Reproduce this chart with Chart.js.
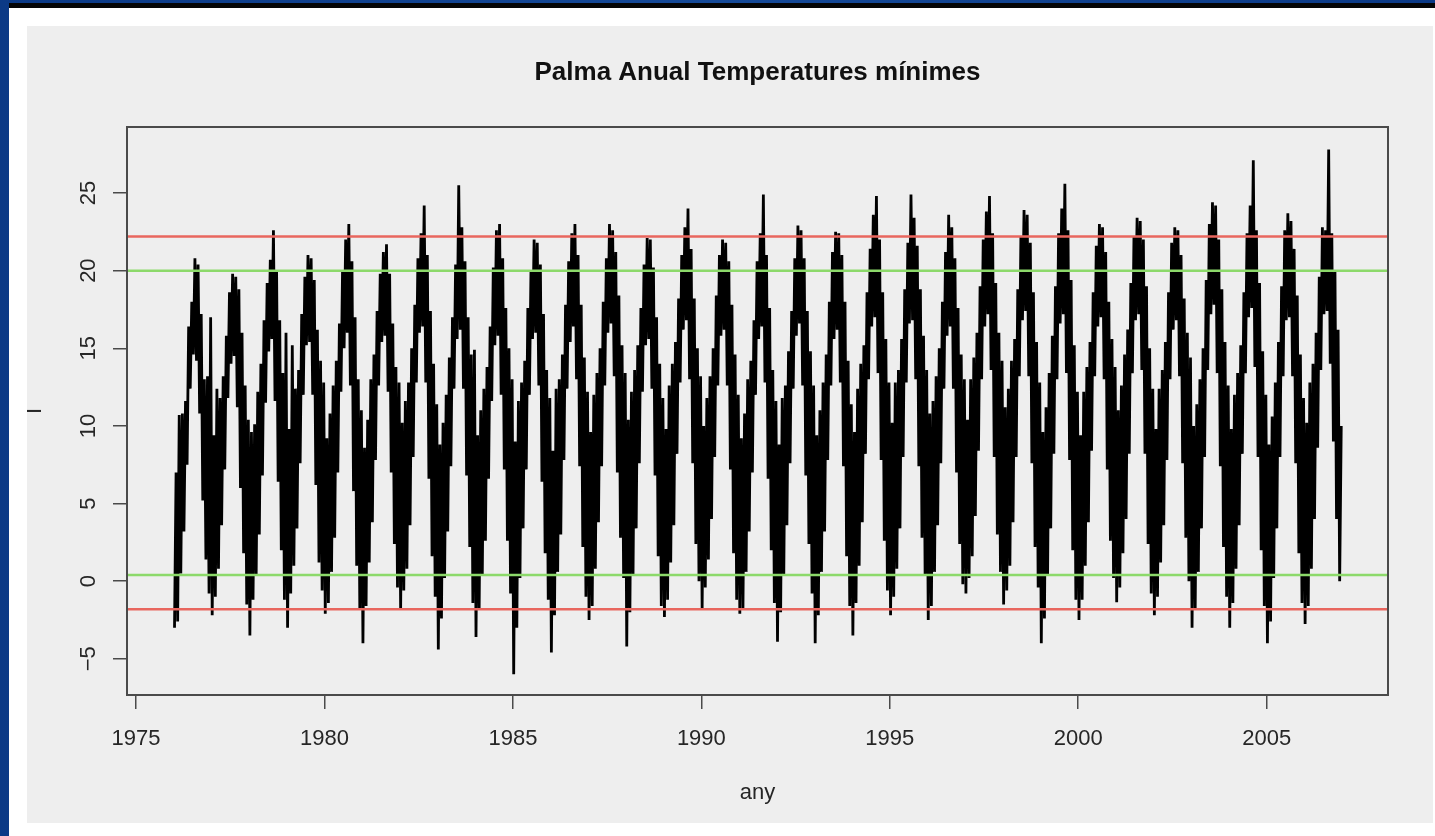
<!DOCTYPE html>
<html>
<head>
<meta charset="utf-8">
<script src="https://cdn.jsdelivr.net/npm/chart.js@4.4.1/dist/chart.umd.min.js"></script>
<style>
  html, body { margin: 0; padding: 0; }
  body {
    width: 1435px; height: 836px; overflow: hidden; position: relative;
    background: linear-gradient(90deg, #0c3a86 0%, #164a98 50%, #0c3a86 100%);
  }
  #topbar { position: absolute; left: 9px; right: 0; top: 3px; height: 5px; background: #050505; }
  #frame { position: absolute; left: 9px; top: 8px; width: 1426px; height: 828px; background: #ffffff; }
  #panel { position: absolute; left: 27px; top: 26px; width: 1406px; height: 797px; background: #eeeeee; }
  canvas { display: block; }
</style>
</head>
<body>
<div id="topbar"></div>
<div id="frame"></div>
<div id="panel"><canvas id="chart" width="1406" height="797"></canvas></div>
<script>
// daily minimum temperature at Palma, summarised per month as the lowest and
// highest daily value (one row per year, Jan..Dec)
const years = [1976, 1977, 1978, 1979, 1980, 1981, 1982, 1983, 1984, 1985, 1986,
  1987, 1988, 1989, 1990, 1991, 1992, 1993, 1994, 1995, 1996, 1997, 1998, 1999,
  2000, 2001, 2002, 2003, 2004, 2005, 2006];

const monthLow = [
  [-3.0, -2.6, 0.5, 3.2, 7.5, 12.4, 14.6, 14.2, 10.8, 5.2, 1.4, -0.8],
  [-2.2, -1.0, 0.8, 3.6, 7.2, 11.8, 14.0, 14.5, 11.2, 6.0, 1.8, -1.5],
  [-3.5, -1.2, 0.4, 3.0, 6.8, 11.5, 14.8, 15.6, 11.6, 6.4, 2.0, -1.2],
  [-3.0, -0.8, 1.0, 3.4, 7.6, 12.0, 15.2, 15.4, 12.0, 6.2, 1.2, -0.6],
  [-2.1, -1.4, 0.6, 2.8, 7.0, 12.2, 15.0, 16.0, 12.6, 5.8, 1.0, -1.8],
  [-4.0, -1.6, 1.2, 3.8, 7.8, 12.6, 15.4, 15.8, 12.2, 7.0, 2.4, -0.4],
  [-1.8, -0.6, 0.8, 3.6, 8.0, 12.8, 16.0, 16.4, 12.8, 6.6, 1.6, -1.0],
  [-4.4, -2.4, 0.2, 3.2, 7.4, 12.4, 15.6, 16.2, 12.4, 6.8, 2.2, -1.4],
  [-3.6, -1.8, 0.4, 2.6, 6.6, 11.6, 15.2, 15.8, 12.0, 7.2, 2.6, -0.8],
  [-6.0, -3.0, 0.2, 3.4, 7.2, 12.0, 15.6, 16.0, 12.6, 6.4, 1.8, -1.2],
  [-4.6, -2.2, 0.6, 3.0, 7.8, 12.4, 15.4, 16.4, 13.0, 7.4, 2.2, -1.0],
  [-2.5, -1.6, 0.8, 3.8, 7.4, 12.6, 16.0, 16.6, 13.2, 7.0, 2.8, 0.2],
  [-4.2, -2.0, 0.4, 3.4, 7.6, 12.2, 15.2, 15.6, 12.4, 6.8, 1.6, -1.6],
  [-2.3, -1.2, 1.2, 3.6, 8.2, 12.8, 16.2, 16.8, 13.0, 7.6, 2.4, 0.0],
  [-1.8, -0.4, 1.4, 4.0, 8.0, 12.6, 15.8, 16.2, 12.6, 7.2, 1.8, -1.2],
  [-2.1, -1.8, 0.6, 3.2, 7.0, 12.0, 15.6, 16.4, 12.8, 6.6, 2.0, -1.4],
  [-3.9, -2.0, 0.4, 3.6, 7.6, 12.4, 15.8, 16.6, 12.6, 6.8, 2.4, -0.8],
  [-4.0, -2.2, 0.6, 3.2, 7.8, 12.6, 15.6, 16.2, 12.8, 7.4, 1.6, -1.6],
  [-3.5, -1.4, 1.0, 3.8, 8.2, 13.0, 16.4, 17.0, 13.4, 7.8, 2.6, -0.6],
  [-2.2, -1.0, 0.8, 3.4, 8.0, 12.8, 16.6, 16.8, 13.0, 7.4, 2.8, 0.4],
  [-2.5, -1.6, 0.6, 3.6, 7.6, 12.4, 15.8, 16.4, 12.4, 7.0, 2.4, -0.2],
  [-0.8, 0.2, 1.6, 4.2, 8.4, 13.0, 16.4, 17.2, 13.6, 8.0, 3.0, 0.6],
  [-1.5, -0.6, 1.0, 3.8, 8.0, 13.2, 16.8, 17.4, 13.2, 7.6, 2.2, -0.4],
  [-4.0, -2.4, 0.4, 3.4, 8.2, 13.0, 16.6, 17.2, 13.4, 7.8, 2.0, -1.2],
  [-2.5, -1.2, 1.0, 3.8, 8.4, 13.2, 16.4, 17.0, 13.0, 7.2, 2.6, 0.2],
  [-1.35, -0.4, 1.8, 4.0, 8.2, 13.4, 16.8, 17.2, 13.6, 8.2, 2.4, -0.8],
  [-2.2, -1.0, 1.2, 3.6, 7.8, 13.0, 16.2, 16.8, 13.2, 7.6, 2.8, 0.0],
  [-3.0, -1.8, 0.6, 3.4, 8.0, 13.6, 17.2, 17.8, 13.4, 7.4, 2.2, -1.0],
  [-3.0, -1.4, 0.8, 3.6, 8.2, 13.4, 17.0, 17.6, 13.8, 8.0, 2.0, -1.6],
  [-4.0, -2.6, 0.2, 3.4, 8.0, 13.2, 16.8, 17.0, 13.2, 7.6, 1.8, -1.4],
  [-2.75, -1.6, 0.8, 4.0, 8.6, 13.6, 17.2, 17.4, 14.0, 9.0, 4.0, 0.0]
];

const monthHigh = [
  [7.0, 10.7, 10.8, 11.6, 16.4, 18.0, 20.8, 20.4, 17.2, 13.0, 13.2, 17.0],
  [9.4, 12.4, 11.8, 13.2, 15.8, 18.6, 19.8, 19.6, 18.8, 16.0, 12.6, 10.4],
  [9.6, 10.1, 12.2, 14.0, 16.8, 19.2, 20.7, 22.6, 20.0, 16.8, 13.4, 16.0],
  [9.8, 15.2, 12.4, 13.6, 17.2, 19.6, 21.0, 20.8, 19.4, 16.2, 14.2, 12.8],
  [9.2, 10.8, 12.6, 14.2, 16.6, 20.0, 22.0, 23.0, 20.6, 17.0, 13.0, 11.0],
  [8.6, 10.4, 13.0, 14.6, 17.4, 19.8, 21.2, 21.7, 19.8, 16.6, 13.8, 12.8],
  [10.2, 11.6, 12.8, 15.0, 17.8, 20.8, 22.4, 24.2, 21.0, 17.4, 14.0, 11.4],
  [8.8, 10.2, 12.0, 14.4, 17.0, 20.4, 25.5, 22.8, 20.6, 17.0, 14.6, 14.9],
  [9.4, 11.0, 12.4, 13.8, 16.4, 20.2, 22.6, 23.0, 20.8, 17.6, 15.0, 13.0],
  [9.0, 11.6, 12.8, 14.2, 17.6, 20.0, 22.0, 21.8, 20.4, 17.2, 13.6, 11.8],
  [8.4, 12.4, 13.0, 14.6, 17.8, 20.6, 22.4, 23.0, 21.0, 17.8, 14.4, 12.2],
  [9.6, 12.0, 13.4, 15.0, 18.0, 20.8, 23.0, 22.6, 21.2, 18.4, 15.2, 13.4],
  [10.4, 12.2, 13.6, 15.2, 17.6, 20.4, 22.1, 22.0, 20.2, 17.0, 14.0, 11.8],
  [9.8, 12.6, 14.0, 15.4, 18.2, 21.0, 22.8, 24.0, 21.4, 18.2, 15.0, 13.2],
  [10.0, 11.8, 13.2, 15.0, 18.4, 21.0, 22.0, 21.8, 20.6, 17.8, 14.6, 12.0],
  [9.2, 10.8, 13.0, 14.2, 16.8, 20.6, 22.4, 24.9, 21.0, 17.6, 13.6, 11.6],
  [8.8, 11.8, 12.6, 14.8, 17.4, 20.8, 22.9, 22.6, 20.8, 17.4, 14.8, 12.6],
  [9.4, 11.0, 12.8, 14.6, 18.0, 21.2, 22.5, 22.4, 21.0, 18.0, 14.2, 11.4],
  [9.6, 12.4, 14.0, 15.2, 18.6, 21.4, 23.6, 24.8, 22.0, 18.6, 15.6, 12.8],
  [10.2, 12.8, 13.6, 15.6, 18.8, 21.8, 24.9, 23.4, 21.6, 18.8, 15.8, 13.6],
  [10.8, 11.6, 13.2, 15.0, 18.0, 21.2, 23.6, 22.8, 20.8, 17.6, 14.6, 13.0],
  [10.4, 13.0, 14.4, 16.0, 19.0, 22.0, 23.8, 24.8, 22.4, 19.2, 16.0, 14.2],
  [11.2, 12.4, 14.2, 15.6, 18.8, 22.2, 23.9, 23.6, 21.8, 18.6, 15.4, 12.8],
  [9.6, 11.2, 13.4, 15.8, 19.0, 22.4, 24.0, 25.6, 22.6, 19.4, 15.2, 12.2],
  [9.4, 12.2, 13.8, 15.4, 18.6, 21.6, 23.0, 22.8, 21.2, 18.0, 15.6, 13.8],
  [11.0, 12.6, 14.6, 16.2, 19.2, 22.2, 23.4, 23.2, 22.0, 19.0, 15.0, 12.4],
  [9.8, 12.4, 13.6, 15.4, 18.6, 21.8, 22.8, 22.6, 21.0, 18.2, 16.0, 14.4],
  [10.0, 11.4, 13.0, 15.0, 19.4, 23.0, 24.4, 24.2, 22.0, 18.8, 15.4, 12.6],
  [9.8, 12.0, 13.4, 15.2, 18.6, 22.4, 24.2, 27.1, 22.6, 19.2, 14.8, 12.0],
  [8.8, 10.6, 12.8, 15.4, 19.0, 22.6, 23.7, 23.2, 21.4, 18.4, 14.6, 11.8],
  [10.2, 12.8, 14.0, 16.0, 19.6, 22.8, 22.6, 27.8, 22.4, 20.0, 16.2, 10.0]
];

// reference levels drawn across the plot
const redLevels = [22.2, -1.8];
const greenLevels = [20.0, 0.4];

const xTicks = [1975, 1980, 1985, 1990, 1995, 2000, 2005];
const yTicks = [-5, 0, 5, 10, 15, 20, 25];
const xLimits = [1974.76, 2008.22];
const yLimits = [-7.33, 29.25];

const chartTitle = 'Palma Anual Temperatures mínimes';
const xTitle = 'any';
const yTitle = 'I';

const FONT = "'Liberation Sans', Arial, Helvetica, sans-serif";
const TEXT = '#262626';

// each month becomes a low point and a high point, which gives the dense band
const series = [];
years.forEach((yr, i) => {
  for (let m = 0; m < 12; m++) {
    series.push({ x: yr + (m + 0.25) / 12, y: monthLow[i][m] });
    series.push({ x: yr + (m + 0.75) / 12, y: monthHigh[i][m] });
  }
});

function levelLine(v, color) {
  return {
    data: [{ x: xLimits[0], y: v }, { x: xLimits[1], y: v }],
    borderColor: color,
    borderWidth: 2.5,
    pointRadius: 0,
    order: 1
  };
}

const rFrame = {
  id: 'rFrame',
  afterDraw(chart) {
    const { ctx, chartArea: a, scales } = chart;
    ctx.save();
    ctx.strokeStyle = '#4a4a4a';
    ctx.lineWidth = 2;
    ctx.strokeRect(a.left, a.top, a.right - a.left, a.bottom - a.top);

    ctx.fillStyle = TEXT;
    ctx.textAlign = 'center';
    ctx.textBaseline = 'middle';
    const cx = (a.left + a.right) / 2;

    ctx.font = 'bold 26px ' + FONT;
    ctx.fillStyle = '#111';
    ctx.fillText(chartTitle, cx, 47);

    ctx.fillStyle = TEXT;
    ctx.font = '22px ' + FONT;
    ctx.fillText(xTitle, cx, 767);

    yTicks.forEach(v => {
      const py = scales.y.getPixelForValue(v);
      ctx.save();
      ctx.translate(62, py);
      ctx.rotate(-Math.PI / 2);
      ctx.fillText(v < 0 ? '\u2212' + Math.abs(v) : String(v), 0, 0);
      ctx.restore();
    });

    ctx.save();
    ctx.translate(8, (a.top + a.bottom) / 2);
    ctx.rotate(-Math.PI / 2);
    ctx.fillText(yTitle, 0, 0);
    ctx.restore();
    ctx.restore();
  }
};

new Chart(document.getElementById('chart'), {
  type: 'line',
  data: {
    datasets: [
      {
        data: series,
        borderColor: '#000000',
        borderWidth: 2.8,
        borderJoinStyle: 'miter',
        pointRadius: 0,
        tension: 0,
        order: 2
      },
      ...redLevels.map(v => levelLine(v, '#e8665e')),
      ...greenLevels.map(v => levelLine(v, '#8cd96a'))
    ]
  },
  options: {
    responsive: false,
    animation: false,
    events: [],
    layout: { padding: { top: 101, right: 45, left: 0, bottom: 0 } },
    plugins: { legend: { display: false }, tooltip: { enabled: false }, title: { display: false } },
    scales: {
      x: {
        type: 'linear',
        min: xLimits[0],
        max: xLimits[1],
        afterBuildTicks: s => { s.ticks = xTicks.map(v => ({ value: v })); },
        afterFit: s => { s.height = 128; },
        border: { display: false },
        grid: { drawOnChartArea: false, drawTicks: true, tickLength: 14, color: '#4a4a4a', lineWidth: 1.5 },
        ticks: {
          autoSkip: false,
          maxRotation: 0,
          padding: 17,
          color: TEXT,
          font: { family: FONT, size: 22 },
          callback: v => String(v)
        }
      },
      y: {
        type: 'linear',
        min: yLimits[0],
        max: yLimits[1],
        afterBuildTicks: s => { s.ticks = yTicks.map(v => ({ value: v })); },
        afterFit: s => { s.width = 100; },
        border: { display: false },
        grid: { drawOnChartArea: false, drawTicks: true, tickLength: 14, color: '#4a4a4a', lineWidth: 1.5 },
        ticks: { display: false }
      }
    }
  },
  plugins: [rFrame]
});
</script>
</body>
</html>
